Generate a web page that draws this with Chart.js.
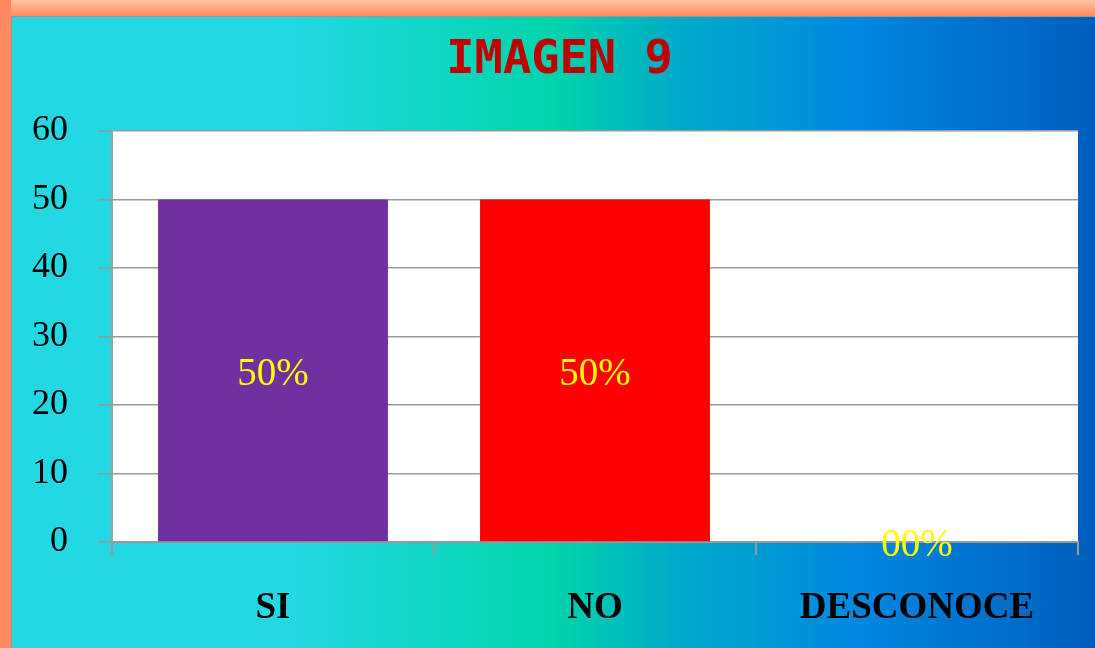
<!DOCTYPE html>
<html>
<head>
<meta charset="utf-8">
<script src="https://cdn.jsdelivr.net/npm/chart.js@4"></script>
<style>
  html, body { margin: 0; padding: 0; background: #ff8a60; }
  #wrap { width: 1095px; height: 648px; }
</style>
</head>
<body>
<div id="wrap"><canvas id="myChart" width="1095" height="648"></canvas></div>
<script>
const categories = ["SI", "NO", "DESCONOCE"];
const values = [50, 50, 0];
const valueLabels = ["50%", "50%", "00%"];
const barColors = ["#7030a0", "#ff0000", "#7030a0"];
const yTicks = [0, 10, 20, 30, 40, 50, 60];
const titleText = "IMAGEN 9";

// frame + gradient + white plot area
const background = {
  id: "background",
  beforeDraw(chart) {
    const ctx = chart.ctx;
    const w = chart.width, h = chart.height;
    ctx.save();
    let top = ctx.createLinearGradient(0, 0, 0, 16);
    top.addColorStop(0, "#ffc4a4");
    top.addColorStop(1, "#ff8a62");
    ctx.fillStyle = top;
    ctx.fillRect(0, 0, w, 16);
    ctx.fillStyle = "#ff8a62";
    ctx.fillRect(0, 0, 11, h);

    let g = ctx.createLinearGradient(11, 0, w, 0);
    g.addColorStop(0, "#22d8e2");
    g.addColorStop(0.26, "#22d8e2");
    g.addColorStop(0.5, "#00d4aa");
    g.addColorStop(0.61, "#00acc8");
    g.addColorStop(0.78, "#0088e0");
    g.addColorStop(1, "#005ebe");
    ctx.fillStyle = g;
    ctx.fillRect(11, 16, w - 11, h - 16);
    ctx.strokeStyle = "#999999";
    ctx.lineWidth = 1;
    ctx.beginPath();
    ctx.moveTo(11.5, h);
    ctx.lineTo(11.5, 16.5);
    ctx.lineTo(w, 16.5);
    ctx.stroke();

    const a = chart.chartArea;
    ctx.fillStyle = "#ffffff";
    ctx.fillRect(a.left, a.top, a.right - a.left, a.bottom - a.top);
    ctx.restore();
  }
};

// title sits a bit right of the canvas centre, so it is drawn here
const titleDraw = {
  id: "titleDraw",
  afterDraw(chart) {
    const ctx = chart.ctx;
    ctx.save();
    ctx.fillStyle = "#c00000";
    ctx.font = "bold 47px 'DejaVu Sans Mono'";
    ctx.textAlign = "center";
    ctx.textBaseline = "middle";
    ctx.fillText(titleText, 559.5, 61);
    ctx.restore();
  }
};

const barText = {
  id: "barText",
  afterDatasetsDraw(chart) {
    const ctx = chart.ctx;
    const meta = chart.getDatasetMeta(0);
    ctx.save();
    ctx.fillStyle = "#ffff00";
    ctx.font = "39px 'Liberation Serif'";
    ctx.textAlign = "center";
    ctx.textBaseline = "middle";
    meta.data.forEach((bar, i) => {
      const y = (bar.y + bar.base) / 2;
      ctx.fillText(valueLabels[i], bar.x, y + 4);
    });
    ctx.restore();
  }
};

new Chart("myChart", {
  type: "bar",
  data: {
    labels: categories,
    datasets: [{
      data: values,
      backgroundColor: barColors,
      borderWidth: 0,
      barPercentage: 1,
      categoryPercentage: 0.714
    }]
  },
  options: {
    responsive: false,
    animation: false,
    layout: { padding: { left: 11, right: 17, top: 131, bottom: 0 } },
    plugins: {
      legend: { display: false },
      tooltip: { enabled: false },
      title: { display: false }
    },
    scales: {
      x: {
        grid: { drawOnChartArea: false, offset: true, color: "#999999", lineWidth: 2, tickLength: 13 },
        border: { color: "#999999", width: 2 },
        ticks: { color: "#000000", padding: 31, font: { family: "'Liberation Serif'", size: 37, weight: "bold" } },
        afterFit(scale) { scale.height = 106; }
      },
      y: {
        min: 0, max: 60,
        afterBuildTicks(scale) { scale.ticks = yTicks.map(v => ({ value: v })); },
        grid: { color: "#999999", lineWidth: 1.5, tickLength: 14 },
        border: { color: "#a0a0a0", width: 2 },
        ticks: { color: "#000000", padding: 30, font: { family: "'Liberation Serif'", size: 36 } },
        afterFit(scale) { scale.width = 101; }
      }
    }
  },
  plugins: [background, barText, titleDraw]
});
</script>
</body>
</html>
